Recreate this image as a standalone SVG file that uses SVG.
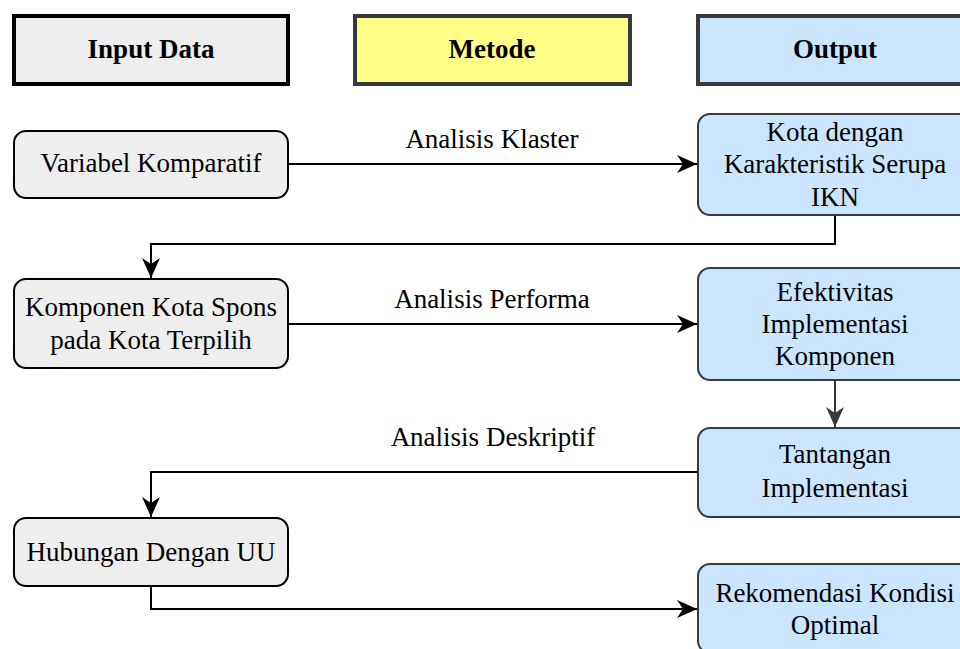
<svg xmlns="http://www.w3.org/2000/svg" width="960" height="649" viewBox="0 0 960 649">
  <style>
    text { font-family: "Liberation Serif", "Times New Roman", serif; font-size: 27px; fill: #000; text-anchor: middle; }
    .hdr text { font-weight: bold; }
    .hdr rect { stroke-width: 4; }
    .in rect { fill: #eeeeee; stroke: #000; stroke-width: 2; }
    .out rect { fill: #cce5ff; stroke: #36393d; stroke-width: 2; }
    .edge { fill: none; stroke: #000; stroke-width: 2; }
  </style>
  <defs>
    <marker id="arrow" markerUnits="userSpaceOnUse" markerWidth="22" markerHeight="20" refX="20" refY="9" orient="auto">
      <path d="M0,0 L20,9 L0,18 L6,9 Z" fill="#000"/>
    </marker>
    <marker id="arrowGrey" markerUnits="userSpaceOnUse" markerWidth="22" markerHeight="20" refX="20" refY="9" orient="auto">
      <path d="M0,0 L20,9 L0,18 L6,9 Z" fill="#36393d"/>
    </marker>
  </defs>

  <!-- column headers -->
  <g id="hdr-input" class="hdr">
    <rect x="14" y="16" width="274" height="68" fill="#eeeeee" stroke="#000"/>
    <text x="151" y="58">Input Data</text>
  </g>
  <g id="hdr-metode" class="hdr">
    <rect x="355" y="16" width="275" height="68" fill="#ffff88" stroke="#36393d"/>
    <text x="492" y="58">Metode</text>
  </g>
  <g id="hdr-output" class="hdr">
    <rect x="698" y="16" width="275" height="68" fill="#cce5ff" stroke="#36393d"/>
    <text x="835" y="58">Output</text>
  </g>

  <!-- input nodes -->
  <g id="variabel" class="in">
    <rect x="14" y="131" width="274" height="67" rx="12"/>
    <text x="151" y="172">Variabel Komparatif</text>
  </g>
  <g id="komponen" class="in">
    <rect x="14" y="279" width="274" height="89" rx="12"/>
    <text x="151" y="316">Komponen Kota Spons</text>
    <text x="151" y="349">pada Kota Terpilih</text>
  </g>
  <g id="hubungan" class="in">
    <rect x="14" y="518" width="274" height="68" rx="12"/>
    <text x="151" y="561">Hubungan Dengan UU</text>
  </g>

  <!-- output nodes -->
  <g id="kota" class="out">
    <rect x="698" y="114" width="274" height="101" rx="12"/>
    <text x="835" y="141">Kota dengan</text>
    <text x="835" y="173">Karakteristik Serupa</text>
    <text x="835" y="206">IKN</text>
  </g>
  <g id="efektivitas" class="out">
    <rect x="698" y="268" width="274" height="112" rx="12"/>
    <text x="835" y="301">Efektivitas</text>
    <text x="835" y="333">Implementasi</text>
    <text x="835" y="365">Komponen</text>
  </g>
  <g id="tantangan" class="out">
    <rect x="698" y="428" width="274" height="89" rx="12"/>
    <text x="835" y="463">Tantangan</text>
    <text x="835" y="497">Implementasi</text>
  </g>
  <g id="rekomendasi" class="out">
    <rect x="698" y="564" width="274" height="89" rx="12"/>
    <text x="835" y="602">Rekomendasi Kondisi</text>
    <text x="835" y="634">Optimal</text>
  </g>

  <!-- connectors -->
  <g id="connectors">
    <path class="edge" d="M289,164 L697,164" marker-end="url(#arrow)"/>
    <path class="edge" d="M835,216 L835,244 L151,244 L151,278" marker-end="url(#arrow)"/>
    <path class="edge" d="M289,324 L697,324" marker-end="url(#arrow)"/>
    <path class="edge" d="M835,381 L835,427" style="stroke:#36393d" marker-end="url(#arrowGrey)"/>
    <path class="edge" d="M697,472 L151,472 L151,517" marker-end="url(#arrow)"/>
    <path class="edge" d="M151,587 L151,609 L697,609" marker-end="url(#arrow)"/>
    <text x="492" y="148">Analisis Klaster</text>
    <text x="492" y="308">Analisis Performa</text>
    <text x="493" y="446">Analisis Deskriptif</text>
  </g>
</svg>
